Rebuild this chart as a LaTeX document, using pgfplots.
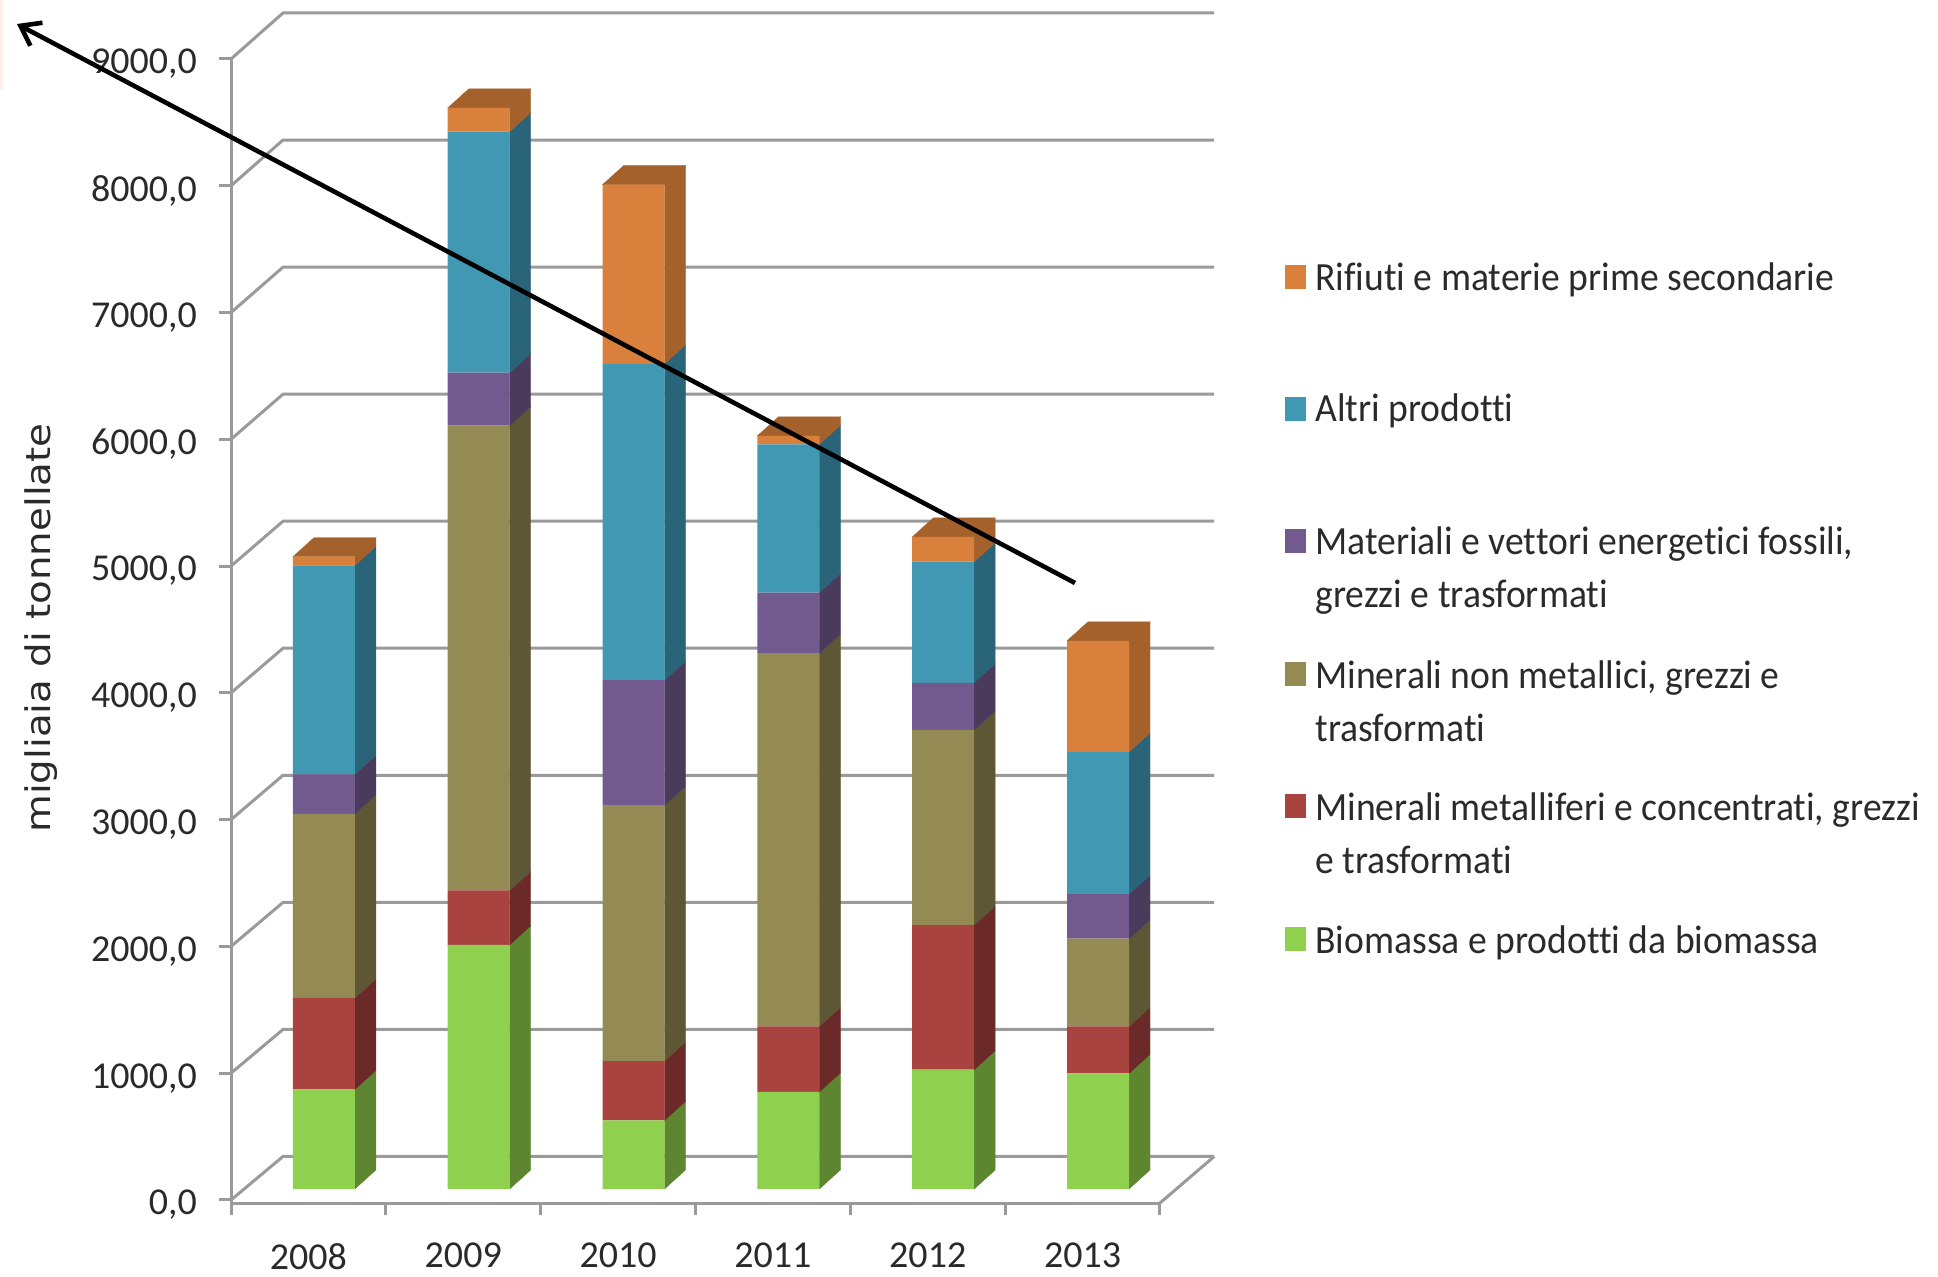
\documentclass[border=0pt]{standalone}
\usepackage{pgfplots}
\usepackage{pgfplotstable}
\usepackage{fontspec}
\pgfplotsset{compat=1.18}
\usetikzlibrary{arrows.meta}
\setmainfont[Ligatures=NoCommon]{Carlito}
\newfontfamily\legfont[FakeStretch=0.94,Ligatures=NoCommon]{Carlito}
\newfontfamily\ylabfont[FakeStretch=1.14]{DejaVu Sans}
\definecolor{cgreen}{HTML}{8FD14F}\definecolor{sgreen}{HTML}{5E8530}
\definecolor{cred}{HTML}{A9433F}\definecolor{sred}{HTML}{6B2A28}
\definecolor{colive}{HTML}{948A54}\definecolor{solive}{HTML}{5E5735}
\definecolor{cpurple}{HTML}{735A8E}\definecolor{spurple}{HTML}{4A3A5C}
\definecolor{cblue}{HTML}{4198B2}\definecolor{sblue}{HTML}{2A6478}
\definecolor{corange}{HTML}{D9813C}\definecolor{sorange}{HTML}{A5612B}
\definecolor{gridc}{HTML}{9A9A9A}
\definecolor{txt}{HTML}{2A2A2A}

\pgfplotstableread{
x   green red  olive purple blue orange
0.6 785   722  1452  312    1648 68
1.6 1926  429  3666  419    1901 186
2.6 541   468  2019  985    2496 1413
3.6 766   516  2945  477    1170 67
4.6 941   1141 1540  371    955  195
5.6 912   370  692   351    1122 877
}\values

% side face of one segment: left x of the bar, lower and upper cumulative value, colour
\newcommand\side[4]{%
  \pgfmathsetmacro\xa{#1+0.4}\pgfmathsetmacro\xb{#1+0.5357}%
  \pgfmathsetmacro\ya{#2+150}\pgfmathsetmacro\yb{#3+150}%
  \edef\tmp{\noexpand\addplot[fill=#4,draw=#4,line width=0.2pt,forget plot] coordinates {(\xa,#2) (\xb,\ya) (\xb,\yb) (\xa,#3)} --cycle;}\tmp}
\newcommand\topface[2]{%
  \pgfmathsetmacro\xa{#1+0.4}\pgfmathsetmacro\xb{#1+0.5357}\pgfmathsetmacro\xc{#1+0.1357}%
  \pgfmathsetmacro\ya{#2+150}%
  \edef\tmp{\noexpand\addplot[fill=sorange,draw=sorange,line width=0.2pt,forget plot] coordinates {(#1,#2) (\xa,#2) (\xb,\ya) (\xc,\ya)} --cycle;}\tmp}
% whole column: x, six cumulative values
\newcommand\column[7]{%
  \side{#1}{0}{#2}{sgreen}\side{#1}{#2}{#3}{sred}\side{#1}{#3}{#4}{solive}%
  \side{#1}{#4}{#5}{spurple}\side{#1}{#5}{#6}{sblue}\side{#1}{#6}{#7}{sorange}\topface{#1}{#7}}

\pgfplotsset{common/.style={
  scale only axis, width=464.5pt, height=572pt,
  xmin=0, xmax=6, ymin=-24, ymax=9000, clip=false}}

\begin{document}
\begin{tikzpicture}[x=0.5pt,y=0.5pt]
\path[use as bounding box] (0,0) rectangle (1938,1276);
\fill[red!6] (0,1186) rectangle (3,1276);

\begin{axis}[common, at={(115.5pt,36.5pt)}, anchor=south west,
  axis x line=bottom, axis y line=left,
  axis line style={gridc,line width=1.5pt,-},
  tick align=outside, tick pos=left,
  major tick length=6pt, minor tick length=6pt,
  ytick={0,1000,...,9000},
  yticklabels={{0,0},{1000,0},{2000,0},{3000,0},{4000,0},{5000,0},{6000,0},{7000,0},{8000,0},{9000,0}},
  xtick={0.5,1.5,2.5,3.5,4.5,5.5},
  xticklabels={2008,2009,2010,2011,2012,2013},
  minor xtick={0,1,2,3,4,5,6},
  major x tick style={draw=none},
  minor x tick style={gridc,line width=1.5pt},
  y tick style={gridc,line width=1.5pt},
  yticklabel style={font=\fontsize{19}{20}\selectfont,text=txt,xshift=-7.5pt,yshift=-2.5pt},
  xticklabel style={font=\fontsize{19}{20}\selectfont,text=txt,yshift=-10.5pt},
]
\addplot[gridc,line width=1.5pt,unbounded coords=jump,forget plot] table[row sep=crcr]{
0 0\\ 0.336 343\\ 6.35 343\\ nan nan\\
0 1000\\ 0.336 1345\\ 6.35 1345\\ nan nan\\
0 2000\\ 0.336 2347\\ 6.35 2347\\ nan nan\\
0 3000\\ 0.336 3350\\ 6.35 3350\\ nan nan\\
0 4000\\ 0.336 4352\\ 6.35 4352\\ nan nan\\
0 5000\\ 0.336 5354\\ 6.35 5354\\ nan nan\\
0 6000\\ 0.336 6356\\ 6.35 6356\\ nan nan\\
0 7000\\ 0.336 7358\\ 6.35 7358\\ nan nan\\
0 8000\\ 0.336 8361\\ 6.35 8361\\ nan nan\\
0 9000\\ 0.336 9363\\ 6.35 9363\\ nan nan\\
6 -24\\ 6.35 343\\
};
\end{axis}

\begin{axis}[common, at={(115.5pt,42pt)}, anchor=south west, hide axis]
\column{0.4}{785}{1507}{2959}{3271}{4919}{4987}
\column{1.4}{1926}{2355}{6021}{6440}{8341}{8527}
\column{2.4}{541}{1009}{3028}{4013}{6509}{7922}
\column{3.4}{766}{1282}{4227}{4704}{5874}{5941}
\column{4.4}{941}{2082}{3622}{3993}{4948}{5143}
\column{5.4}{912}{1282}{1974}{2325}{3447}{4324}
\end{axis}

\begin{axis}[common, at={(115.5pt,42pt)}, anchor=south west, hide axis,
  ybar stacked, bar width=31pt, bar shift=0pt]
\addplot[fill=cgreen,draw=none] table[x=x,y=green]{\values};
\addplot[fill=cred,draw=none] table[x=x,y=red]{\values};
\addplot[fill=colive,draw=none] table[x=x,y=olive]{\values};
\addplot[fill=cpurple,draw=none] table[x=x,y=purple]{\values};
\addplot[fill=cblue,draw=none] table[x=x,y=blue]{\values};
\addplot[fill=corange,draw=none] table[x=x,y=orange]{\values};
\end{axis}

% arrow
\draw[black,line width=2.3pt,-{Straight Barb[length=9pt,width=13pt]}] (1075,693) -- (17,1252);

% y label
\node[rotate=90,font=\ylabfont\fontsize{17}{20}\selectfont,text=txt] at (41,648) {migliaia di tonnellate};

% legend
\newcommand\lsq[2]{\fill[#1] (1285,{1276-#2-12}) rectangle (1306,{1276-#2+12});}
\newcommand\ltx[2]{\node[anchor=base west,inner sep=0pt,font=\legfont\fontsize{20}{24}\selectfont,text=txt] at (1315,{1276-#1-14}) {#2};}
\lsq{corange}{277}\ltx{277}{Rifiuti e materie prime secondarie}
\lsq{cblue}{409}\ltx{408}{Altri prodotti}
\lsq{cpurple}{541}\ltx{541}{Materiali e vettori energetici fossili,}\ltx{594}{grezzi e trasformati}
\lsq{colive}{674}\ltx{674}{Minerali non metallici, grezzi e}\ltx{727}{trasformati}
\lsq{cred}{806}\ltx{806}{Minerali metalliferi e concentrati, grezzi}\ltx{859}{e trasformati}
\lsq{cgreen}{939}\ltx{939}{Biomassa e prodotti da biomassa}
\end{tikzpicture}
\end{document}
